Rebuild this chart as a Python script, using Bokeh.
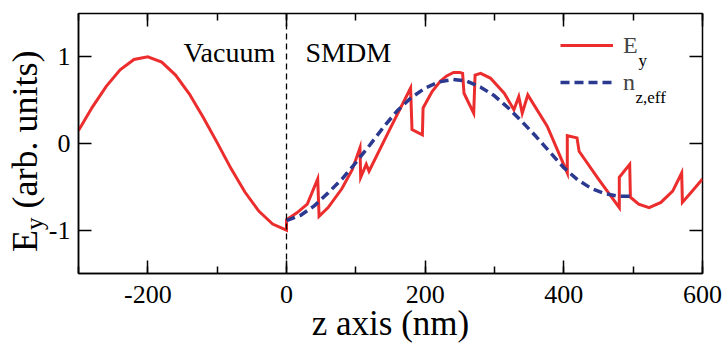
from bokeh.plotting import figure
from bokeh.models import (Range1d, LinearAxis, SingleIntervalTicker, FixedTicker,
                          Span, Label, Legend, LegendItem, Div)
from bokeh.layouts import row
from bokeh.embed import file_html
from bokeh.resources import INLINE

# ---------------- data ----------------
vac_z = [-300, -280, -260, -240, -220, -200, -180, -160, -140, -120,
         -100, -80, -60, -40, -20, 0]
vac_ey = [0.15, 0.42, 0.66, 0.85, 0.97, 1.00, 0.94, 0.79, 0.57, 0.30,
          0.01, -0.29, -0.56, -0.78, -0.93, -1.00]

smdm_z = [0, 15, 30, 45, 47, 60, 80, 95, 106, 107, 115, 119, 150, 179, 181,
          196, 197, 210, 222, 231, 241, 250, 254, 256, 270, 272, 280, 294,
          314, 328, 335, 340, 348, 376, 405, 405, 419, 422, 450, 480, 480,
          495, 496, 508, 523, 540, 557, 570, 571, 585, 600]
smdm_ey = [-0.88, -0.80, -0.70, -0.41, -0.84, -0.74, -0.52, -0.30, -0.05, -0.39,
           -0.24, -0.32, 0.18, 0.64, 0.16, 0.10, 0.41, 0.60, 0.72, 0.78, 0.82,
           0.82, 0.81, 0.58, 0.35, 0.79, 0.81, 0.755, 0.58, 0.39, 0.54, 0.35,
           0.56, 0.20, -0.34, 0.09, 0.065, -0.09, -0.41, -0.74, -0.39, -0.24,
           -0.62, -0.70, -0.74, -0.68, -0.55, -0.34, -0.68, -0.55, -0.41]

neff_z = [0, 20, 40, 60, 80, 100, 120, 140, 160, 180, 200, 220, 240, 260,
          280, 300, 320, 340, 360, 380, 400, 420, 440, 460, 480, 495]
neff_val = [-0.89, -0.83, -0.72, -0.57, -0.41, -0.22, -0.02, 0.19, 0.38, 0.53,
            0.64, 0.71, 0.74, 0.72, 0.65, 0.55, 0.41, 0.25, 0.08, -0.10,
            -0.28, -0.42, -0.52, -0.58, -0.61, -0.61]

x_tick_labels = {-200: "-200", 0: "0", 200: "200", 400: "400", 600: "600"}
y_ticks = [-1, 0, 1]
y_tick_labels = {-1: "-1", 0: "0", 1: "1"}

x_axis_title = "z axis (nm)"
y_axis_main = "E"
y_axis_sub = "y"
y_axis_rest = "(arb. units)"
region_left = "Vacuum"
region_right = "SMDM"
legend_ey = ("E", "y")
legend_n = ("n", "z,eff")

# ---------------- styling ----------------
FONT = "Liberation Serif"
RED = "#EC2D2D"
BLUE = "#2B3990"
DIV_W = 40

ey_z = vac_z + smdm_z
ey_val = vac_ey + smdm_ey

p = figure(width=723 - DIV_W, height=345, x_range=Range1d(-300, 600), y_range=Range1d(-1.5, 1.5),
           output_backend="svg", toolbar_location=None, margin=0,
           min_border_left=78 - DIV_W, min_border_right=21, min_border_top=13, min_border_bottom=71)
p.background_fill_color = "white"
p.border_fill_alpha = 0
p.outline_line_color = "black"
p.outline_line_width = 1.5
p.xgrid.visible = False
p.ygrid.visible = False

# bottom / left axes
xa = p.xaxis[0]
xa.ticker = SingleIntervalTicker(interval=200, num_minor_ticks=2)
xa.major_label_overrides = x_tick_labels
ya = p.yaxis[0]
ya.ticker = FixedTicker(ticks=y_ticks, minor_ticks=[])
ya.major_label_overrides = y_tick_labels

for ax in (xa, ya):
    ax.major_tick_in = 13
    ax.major_tick_out = 0
    ax.minor_tick_in = 7
    ax.minor_tick_out = 0
    ax.major_tick_line_width = 1.5
    ax.minor_tick_line_width = 1.5
    ax.axis_line_width = 1.5
    ax.major_label_text_font = FONT
    ax.major_label_text_font_size = "26px"
    ax.major_label_text_color = "black"
xa.major_label_standoff = 12
ya.major_label_standoff = 8

xa.axis_label = x_axis_title
xa.axis_label_text_font = FONT
xa.axis_label_text_font_size = "35px"
xa.axis_label_text_font_style = "normal"
xa.axis_label_text_color = "black"
xa.axis_label_standoff = -2

# top / right axes (ticks only)
top = LinearAxis(ticker=SingleIntervalTicker(interval=200, num_minor_ticks=2))
right = LinearAxis(ticker=FixedTicker(ticks=y_ticks, minor_ticks=[]))
for ax in (top, right):
    ax.major_tick_in = 13
    ax.major_tick_out = 0
    ax.minor_tick_in = 7
    ax.minor_tick_out = 0
    ax.major_tick_line_width = 1.5
    ax.minor_tick_line_width = 1.5
    ax.axis_line_color = None
    ax.major_label_text_color = None
    ax.major_label_standoff = 0
p.add_layout(top, "above")
p.add_layout(right, "right")

# interface line
p.add_layout(Span(location=0, dimension="height", line_color="black",
                  line_width=1.3, line_dash="6 4"))

red = p.line(ey_z, ey_val, line_color=RED, line_width=3, line_join="miter")
blue = p.line(neff_z, neff_val, line_color=BLUE, line_width=3.5, line_dash="9 5")

legend = Legend(items=[LegendItem(label=legend_ey[0], renderers=[red]),
                       LegendItem(label=legend_n[0], renderers=[blue])],
                location=(482, 176), padding=0, margin=0, spacing=7,
                glyph_width=53, glyph_height=30, label_height=30, label_standoff=10,
                label_text_font=FONT, label_text_font_size="24px",
                border_line_color=None, background_fill_alpha=0)
p.add_layout(legend)

def lab(x, y, text, size, **kw):
    p.add_layout(Label(x=x, y=y, x_units="screen", y_units="screen", text=text,
                       text_font=FONT, text_font_size=size, text_color="black",
                       text_baseline="alphabetic", **kw))

# legend subscripts
lab(560, 213, legend_ey[1], "17px")
lab(557, 176, legend_n[1], "17px")

# region labels
lab(105, 221, region_left, "28px")
lab(227, 221, region_right, "28px")

# y-axis title (rotated, with subscript) as real HTML text
ytitle = Div(
    width=DIV_W, height=345, margin=0,
    styles={"overflow": "visible"},
    text=(
        '<div style="position:relative;width:%dpx;height:345px;overflow:visible;">'
        '<div style="position:absolute;left:7px;top:252px;transform-origin:0 0;'
        'transform:rotate(-90deg);white-space:nowrap;font-family:\'Liberation Serif\';'
        'font-size:36px;line-height:1;color:black;">'
        '%s<sub style="font-size:25px;vertical-align:-0.25em;line-height:1;">%s</sub> %s'
        '</div></div>' % (DIV_W, y_axis_main, y_axis_sub, y_axis_rest)
    ),
)

layout = row(ytitle, p, spacing=0)
open("out.html", "w").write(file_html(layout, INLINE))
